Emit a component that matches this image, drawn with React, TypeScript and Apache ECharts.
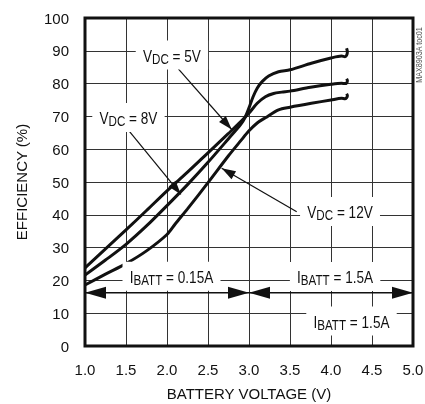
import { useEffect, useRef } from "react";
import * as echarts from "echarts";

const FONT = '"Liberation Sans", Arial, sans-serif';
const INK = "#111";
const NARROW = 0.8; // horizontal squeeze for annotation text (condensed look)

// Axis ranges (battery voltage V, efficiency %)
const X_MIN = 1.0;
const X_MAX = 5.0;
const X_STEP = 0.5;
const Y_MIN = 0;
const Y_MAX = 100;
const Y_STEP = 10;

// Curve: upper at low voltage, middle at high voltage
const curveAVolts = [1.0, 1.25, 1.5, 1.75, 2.0, 2.25, 2.5, 2.75, 2.9, 3.0, 3.1, 3.2, 3.3, 3.4, 3.5, 3.75, 4.0, 4.13, 4.17, 4.19, 4.2, 4.19];
const curveAEff = [23.8, 29.6, 35.4, 41.3, 47.3, 53.0, 58.9, 64.8, 68.4, 71.0, 74.0, 76.0, 77.0, 77.4, 77.7, 78.9, 79.8, 80.1, 80.0, 80.2, 80.9, 81.5];

// Curve: middle at low voltage, upper at high voltage
const curveBVolts = [1.0, 1.25, 1.5, 1.75, 2.0, 2.25, 2.5, 2.75, 2.9, 2.95, 3.0, 3.05, 3.1, 3.16, 3.24, 3.36, 3.5, 3.76, 4.0, 4.13, 4.17, 4.19, 4.2, 4.19];
const curveBEff = [21.6, 26.2, 31.0, 36.6, 42.8, 49.2, 56.0, 63.2, 67.6, 69.6, 72.6, 76.0, 78.6, 80.6, 82.3, 83.6, 84.2, 86.2, 87.8, 88.4, 88.2, 88.6, 89.7, 90.8];

// Curve: lowest everywhere
const curveCVolts = [1.0, 1.25, 1.5, 1.75, 2.0, 2.1, 2.25, 2.5, 2.75, 2.9, 3.0, 3.1, 3.2, 3.36, 3.5, 3.76, 4.0, 4.13, 4.17, 4.19, 4.2, 4.19];
const curveCEff = [18.6, 21.9, 25.1, 29.0, 34.0, 37.2, 41.8, 49.8, 58.0, 62.6, 65.6, 68.0, 69.6, 72.0, 72.8, 74.0, 75.0, 75.5, 75.4, 75.7, 76.3, 76.9];

// Annotation labels (text, centre in data coordinates)
const labelTexts = ["V{s|DC} = 5V", "V{s|DC} = 8V", "V{s|DC} = 12V", "I{s|BATT} = 0.15A", "I{s|BATT} = 1.5A", "I{s|BATT} = 1.5A"];
const labelX = [2.06, 1.53, 4.11, 2.055, 4.05, 4.25];
const labelY = [88.7, 69.7, 41.0, 21.3, 21.2, 7.6];

// Pointer arrows from labels to curves (data coordinates)
const arrowFromX = [2.138, 1.509, 3.582];
const arrowFromY = [84.5, 66.4, 40.9];
const arrowToX = [2.789, 2.17, 2.667];
const arrowToY = [66.0, 46.2, 54.2];

// Current-range span arrows
const spanStart = [1.0, 3.0];
const spanEnd = [3.0, 5.0];
const spanLevel = 16.2;

export default function App() {
  const ref = useRef<HTMLDivElement>(null);
  useEffect(() => {
    const el = ref.current!;
    const chart = echarts.init(el, null, { renderer: "svg" });
    const mkSeries = (name: string, xs: number[], ys: number[]) => ({
      name,
      type: "line",
      data: xs.map((x, i) => [x, ys[i]]),
      showSymbol: false,
      smooth: 0.3,
      lineStyle: { color: INK, width: 3 },
      z: 5,
    });
    chart.setOption({
      animation: false,
      grid: { left: 85, top: 18, width: 328, height: 328, show: false, containLabel: false, outerBoundsMode: "none" },
      xAxis: {
        type: "value",
        min: X_MIN,
        max: X_MAX,
        interval: X_STEP,
        name: "BATTERY VOLTAGE (V)",
        nameLocation: "middle",
        nameGap: 40,
        nameTextStyle: { fontFamily: FONT, fontSize: 15, color: INK },
        axisLine: { show: false },
        axisTick: { show: false },
        axisLabel: {
          margin: 16,
          fontFamily: FONT,
          fontSize: 15,
          color: INK,
          formatter: (v: number) => v.toFixed(1),
        },
        splitLine: { show: true, showMinLine: false, showMaxLine: false, lineStyle: { color: "#333", width: 1 } },
      },
      yAxis: {
        type: "value",
        min: Y_MIN,
        max: Y_MAX,
        interval: Y_STEP,
        name: "EFFICIENCY (%)",
        nameLocation: "middle",
        nameGap: 56,
        nameTextStyle: { fontFamily: FONT, fontSize: 15, color: INK },
        axisLine: { show: false },
        axisTick: { show: false },
        axisLabel: { margin: 16, fontFamily: FONT, fontSize: 15, color: INK },
        splitLine: { show: true, showMinLine: false, showMaxLine: false, lineStyle: { color: "#333", width: 1 } },
      },
      series: [
        mkSeries("A", curveAVolts, curveAEff),
        mkSeries("B", curveBVolts, curveBEff),
        mkSeries("C", curveCVolts, curveCEff),
      ],
    });

    const px = (x: number, y: number) => chart.convertToPixel({ gridIndex: 0 }, [x, y]) as number[];
    const graphics: any[] = [];

    const arrowHead = (from: number[], to: number[], len: number, wid: number) => {
      const dx = to[0] - from[0];
      const dy = to[1] - from[1];
      const d = Math.hypot(dx, dy);
      const ux = dx / d;
      const uy = dy / d;
      const bx = to[0] - ux * len;
      const by = to[1] - uy * len;
      return [
        [to[0], to[1]],
        [bx - uy * wid / 2, by + ux * wid / 2],
        [bx + uy * wid / 2, by - ux * wid / 2],
      ];
    };

    // plot frame
    const tl = px(X_MIN, Y_MAX);
    const br = px(X_MAX, Y_MIN);
    graphics.push({
      type: "rect",
      shape: { x: tl[0], y: tl[1], width: br[0] - tl[0], height: br[1] - tl[1] },
      style: { fill: "none", stroke: INK, lineWidth: 3 },
      z: 20,
    });

    // pointer arrows
    for (let i = 0; i < arrowFromX.length; i++) {
      const a = px(arrowFromX[i], arrowFromY[i]);
      const b = px(arrowToX[i], arrowToY[i]);
      graphics.push({
        type: "line",
        shape: { x1: a[0], y1: a[1], x2: b[0], y2: b[1] },
        style: { stroke: INK, lineWidth: 1.2 },
        z: 12,
      });
      graphics.push({
        type: "polygon",
        shape: { points: arrowHead(a, b, 14, 9) },
        style: { fill: INK },
        z: 12,
      });
    }

    // span arrows
    for (let i = 0; i < spanStart.length; i++) {
      const a = px(spanStart[i], spanLevel);
      const b = px(spanEnd[i], spanLevel);
      graphics.push({
        type: "line",
        shape: { x1: a[0], y1: a[1], x2: b[0], y2: b[1] },
        style: { stroke: INK, lineWidth: 1.5 },
        z: 12,
      });
      graphics.push({ type: "polygon", shape: { points: arrowHead(a, b, 21, 12) }, style: { fill: INK }, z: 12 });
      graphics.push({ type: "polygon", shape: { points: arrowHead(b, a, 21, 12) }, style: { fill: INK }, z: 12 });
    }

    // labels with white boxes
    for (let i = 0; i < labelTexts.length; i++) {
      const p = px(labelX[i], labelY[i]);
      graphics.push({
        type: "text",
        x: p[0],
        y: p[1],
        scaleX: NARROW,
        z: 15,
        style: {
          text: labelTexts[i],
          fontFamily: FONT,
          fontSize: 17,
          fill: INK,
          align: "center",
          verticalAlign: "middle",
          backgroundColor: "#fff",
          padding: [4, 9, 3, 9],
          rich: {
            s: { fontFamily: FONT, fontSize: 14.5, fill: INK, padding: [7, 0, 0, 0] },
          },
        },
      });
    }

    // figure id
    graphics.push({
      type: "text",
      x: br[0] + 6.5,
      y: tl[1] + 37,
      rotation: Math.PI / 2,
      scaleX: NARROW,
      z: 15,
      style: {
        text: "MAX8903A toc01",
        fontFamily: FONT,
        fontSize: 9,
        fill: "#555",
        align: "center",
        verticalAlign: "middle",
      },
    });

    chart.setOption({ graphic: graphics });
    return () => chart.dispose();
  }, []);
  return <div ref={ref} style={{ position: "fixed", left: 0, top: 0, width: 425, height: 404 }} />;
}
